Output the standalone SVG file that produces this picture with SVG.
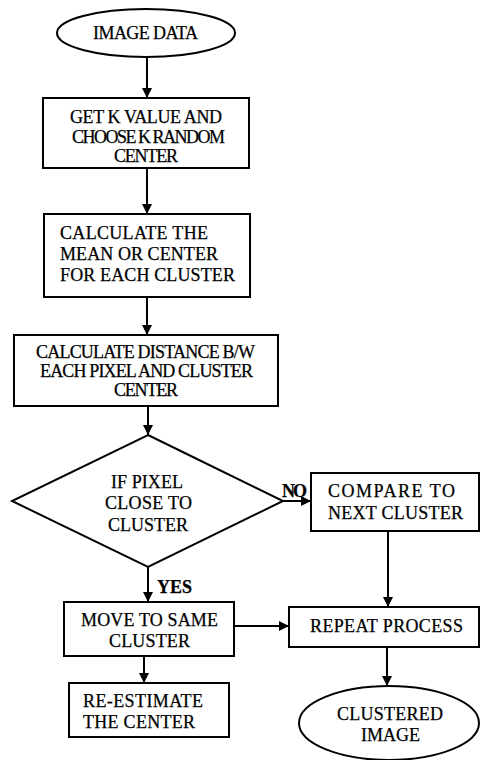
<svg xmlns="http://www.w3.org/2000/svg" width="480" height="760" viewBox="0 0 480 760">
<style>
.shape{fill:#fff;stroke:#000;stroke-width:2}
.t{font-family:'Liberation Serif','Times New Roman','DejaVu Serif',serif;font-size:18px;fill:#000;stroke:#000;stroke-width:0.25}
.c{text-anchor:middle}
.b{font-weight:bold}
.conn line{stroke:#000;stroke-width:2}
</style>
<defs>
<marker id="arr" markerUnits="userSpaceOnUse" markerWidth="12" markerHeight="12" refX="10" refY="5" orient="auto">
<path d="M0,0 L10,5 L0,10 Z" fill="#000"/>
</marker>
</defs>
<rect width="480" height="760" fill="#fff"/>
<g id="connectors" class="conn">
<line x1="147" y1="57" x2="147" y2="98" marker-end="url(#arr)"/>
<line x1="147" y1="168" x2="147" y2="214" marker-end="url(#arr)"/>
<line x1="147" y1="297" x2="147" y2="335" marker-end="url(#arr)"/>
<line x1="148" y1="406" x2="148" y2="435" marker-end="url(#arr)"/>
<line x1="283" y1="501" x2="311" y2="501" marker-end="url(#arr)"/>
<line x1="148" y1="567" x2="148" y2="602" marker-end="url(#arr)"/>
<line x1="388" y1="531" x2="388" y2="607" marker-end="url(#arr)"/>
<line x1="234" y1="626" x2="289" y2="626" marker-end="url(#arr)"/>
<line x1="144" y1="656" x2="144" y2="683" marker-end="url(#arr)"/>
<line x1="387" y1="647" x2="387" y2="686" marker-end="url(#arr)"/>
<text class="t b" x="282" y="497" textLength="25">NO</text>
<text class="t b" x="157" y="593" textLength="35">YES</text>
</g>
<g id="image-data">
<ellipse class="shape" cx="146" cy="33" rx="89" ry="24"/>
<text class="t c" x="145.5" y="39" textLength="105">IMAGE DATA</text>
</g>
<g id="get-k">
<rect class="shape" x="43" y="98" width="206" height="70"/>
<text class="t c" x="146" y="123" textLength="152">GET K VALUE AND</text>
<text class="t c" x="148.5" y="143" textLength="153">CHOOSE K RANDOM</text>
<text class="t c" x="146" y="162" textLength="64">CENTER</text>
</g>
<g id="calc-mean">
<rect class="shape" x="44" y="214" width="206" height="83"/>
<text class="t" x="60" y="239" textLength="148">CALCULATE THE</text>
<text class="t" x="60" y="260" textLength="158">MEAN OR CENTER</text>
<text class="t" x="60" y="281" textLength="175">FOR EACH CLUSTER</text>
</g>
<g id="calc-distance">
<rect class="shape" x="14" y="335" width="264" height="71"/>
<text class="t c" x="145.5" y="358" textLength="219">CALCULATE DISTANCE B/W</text>
<text class="t c" x="146.5" y="377" textLength="213">EACH PIXEL AND CLUSTER</text>
<text class="t c" x="146" y="396" textLength="64">CENTER</text>
</g>
<g id="decision">
<polygon class="shape" points="148,435 283,501 148,567 12,501"/>
<text class="t c" x="147" y="488" textLength="72">IF PIXEL</text>
<text class="t c" x="148.5" y="509" textLength="87">CLOSE TO</text>
<text class="t c" x="148" y="531" textLength="80">CLUSTER</text>
</g>
<g id="compare">
<rect class="shape" x="311" y="473" width="168" height="58"/>
<text class="t" x="328" y="497" textLength="127">COMPARE TO</text>
<text class="t" x="328" y="519" textLength="135">NEXT CLUSTER</text>
</g>
<g id="move">
<rect class="shape" x="64" y="602" width="170" height="54"/>
<text class="t c" x="149.5" y="626" textLength="137">MOVE TO SAME</text>
<text class="t c" x="149.5" y="647" textLength="81">CLUSTER</text>
</g>
<g id="repeat">
<rect class="shape" x="289" y="607" width="190" height="40"/>
<text class="t c" x="386.5" y="632" textLength="153">REPEAT PROCESS</text>
</g>
<g id="re-estimate">
<rect class="shape" x="69" y="683" width="160" height="54"/>
<text class="t" x="83" y="707" textLength="120">RE-ESTIMATE</text>
<text class="t" x="83" y="728" textLength="112">THE CENTER</text>
</g>
<g id="clustered-image">
<ellipse class="shape" cx="389" cy="723" rx="90" ry="37"/>
<text class="t c" x="390" y="720" textLength="106">CLUSTERED</text>
<text class="t c" x="390.5" y="741" textLength="59">IMAGE</text>
</g>
</svg>
